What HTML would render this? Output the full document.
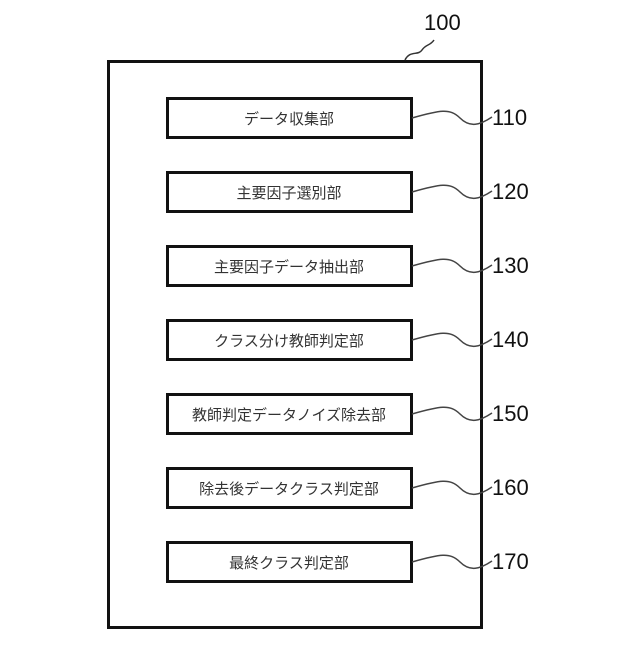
<!DOCTYPE html>
<html><head><meta charset="utf-8"><style>
body{margin:0;background:#fff;width:640px;height:640px;overflow:hidden}
svg text{font-family:"Liberation Sans",sans-serif}
.j{font-family:"Liberation Serif","Noto Serif CJK JP","Noto Serif CJK SC",serif;font-size:15px;fill:#333}
.n{font-size:22px;fill:#111}
</style></head><body>
<svg width="640" height="640" viewBox="0 0 640 640">
<rect x="108.5" y="61.5" width="373" height="566" fill="none" stroke="#111" stroke-width="3"/>
<text class="n" x="424" y="30">100</text>
<path d="M405 60 C410 50,418 56,422 50 S430 46,434 40" fill="none" stroke="#333" stroke-width="1.5"/>
<g fill="none" stroke="#111" stroke-width="3">
<rect x="167.5" y="98.5" width="244" height="39"/>
<rect x="167.5" y="172.5" width="244" height="39"/>
<rect x="167.5" y="246.5" width="244" height="39"/>
<rect x="167.5" y="320.5" width="244" height="39"/>
<rect x="167.5" y="394.5" width="244" height="39"/>
<rect x="167.5" y="468.5" width="244" height="39"/>
<rect x="167.5" y="542.5" width="244" height="39"/>
</g>
<g fill="none" stroke="#444" stroke-width="1.5">
<path d="M412 118 C440 110,450 108,460 118 S480 125,492 117"/>
<path d="M412 192 C440 184,450 182,460 192 S480 199,492 191"/>
<path d="M412 266 C440 258,450 256,460 266 S480 273,492 265"/>
<path d="M412 340 C440 332,450 330,460 340 S480 347,492 339"/>
<path d="M412 414 C440 406,450 404,460 414 S480 421,492 413"/>
<path d="M412 488 C440 480,450 478,460 488 S480 495,492 487"/>
<path d="M412 562 C440 554,450 552,460 562 S480 569,492 561"/>
</g>
<g class="n">
<text x="492" y="125">110</text>
<text x="492" y="199">120</text>
<text x="492" y="273">130</text>
<text x="492" y="347">140</text>
<text x="492" y="421">150</text>
<text x="492" y="495">160</text>
<text x="492" y="569">170</text>
</g>
<g class="j" text-anchor="middle">
<text x="289" y="124">データ収集部</text>
<text x="289" y="198">主要因子選別部</text>
<text x="289" y="272">主要因子データ抽出部</text>
<text x="289" y="346">クラス分け教師判定部</text>
<text x="289" y="420">教師判定データノイズ除去部</text>
<text x="289" y="494">除去後データクラス判定部</text>
<text x="289" y="568">最終クラス判定部</text>
</g>
</svg>
</body></html>
